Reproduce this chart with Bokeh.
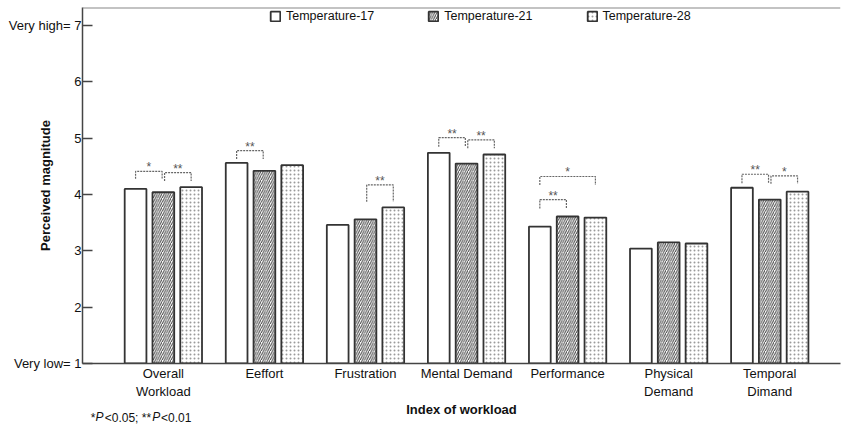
from bokeh.plotting import figure
from bokeh.models import (ColumnDataSource, Span, FixedTicker, Legend, LegendItem,
                          Range1d, LinearAxis)
from bokeh.transform import dodge
from bokeh.embed import file_html
from bokeh.resources import INLINE
from bokeh.core.properties import value

# ---- data ----
categories = ["Overall\nWorkload", "Eeffort", "Frustration", "Mental Demand",
              "Performance", "Physical\nDemand", "Temporal\nDimand"]
series_names = ["Temperature-17", "Temperature-21", "Temperature-28"]
t17 = [4.10, 4.56, 3.46, 4.74, 3.43, 3.04, 4.12]
t21 = [4.04, 4.42, 3.56, 4.55, 3.61, 3.15, 3.91]
t28 = [4.13, 4.52, 3.77, 4.71, 3.59, 3.13, 4.05]
y_ticks = [1, 2, 3, 4, 5, 6, 7]
y_tick_labels = ["Very low= 1", "2", "3", "4", "5", "6", "Very high= 7"]
x_title = "Index of workload"
y_title = "Perceived magnitude"

# significance brackets: group, from-series, to-series, top value, leg depth, label
brk_group = [0, 0, 1, 2, 3, 3, 4, 4, 6, 6]
brk_a = [0, 1, 0, 1, 0, 1, 0, 0, 0, 1]
brk_b = [1, 2, 1, 2, 1, 2, 1, 2, 1, 2]
brk_top = [4.41, 4.39, 4.78, 4.17, 5.01, 4.97, 3.91, 4.32, 4.36, 4.33]
brk_depth = [0.13, 0.15, 0.15, 0.30, 0.16, 0.15, 0.16, 0.15, 0.16, 0.14]
brk_label = ["*", "**", "**", "**", "**", "**", "**", "*", "**", "*"]

# footnote pieces (normal / italic)
foot_normal = ["*", "<0.05; **", "<0.01"]
foot_italic = ["P", "P"]

FONT = "Liberation Sans"
offsets = [-0.275, 0.0, 0.275]
bar_w = 0.215
X0, X1 = -0.80, 6.70
FRAME_L, FRAME_R = 82, 840

def px_to_x(px):
    return round(X0 + (px - FRAME_L) * (X1 - X0) / (FRAME_R - FRAME_L), 4)

p = figure(width=843, height=427, output_backend="svg", toolbar_location=None,
           x_range=Range1d(X0, X1), y_range=Range1d(1, 7.32))
p.min_border_left = 82
p.min_border_right = 3
p.min_border_top = 7
p.min_border_bottom = 64
p.outline_line_color = None
p.xgrid.visible = False
p.ygrid.visible = False
p.background_fill_color = "white"
p.border_fill_color = "white"

src = ColumnDataSource(dict(g=list(range(len(categories))), t17=t17, t21=t21, t28=t28))

common = dict(width=bar_w, bottom=1, source=src, line_color="#333333", line_width=1.8)
r1 = p.vbar(x=dodge("g", offsets[0]), top="t17", fill_color="white", **common)
r2 = p.vbar(x=dodge("g", offsets[1]), top="t21", fill_color="white",
            hatch_pattern="right_diagonal_line", hatch_color="#444444",
            hatch_scale=4.5, hatch_weight=1.0, **common)
r3 = p.vbar(x=dodge("g", offsets[2]), top="t28", fill_color="white",
            hatch_pattern="dot", hatch_color="#9a9a9a",
            hatch_scale=4, hatch_weight=1.0, **common)

# brackets
xs, ys, tx, ty = [], [], [], []
for g, a, b, top, d in zip(brk_group, brk_a, brk_b, brk_top, brk_depth):
    xa = g + offsets[a] + (0.012 if a == 1 else 0)
    xb = g + offsets[b] - (0.012 if b == 1 else 0)
    xs.append([xa, xa, xb, xb])
    ys.append([top - d, top, top, top - d])
    tx.append((xa + xb) / 2)
    ty.append(top)
p.multi_line(xs=xs, ys=ys, line_color="#666666", line_width=1.2, line_dash="2 1")
p.text(x=tx, y=ty, text=brk_label, text_align="center", text_baseline="middle",
       y_offset=-4, text_font=value(FONT), text_font_size="12px", text_color="#555555")

# x axis
xa_ = p.xaxis[0]
xa_.ticker = FixedTicker(ticks=list(range(len(categories))))
xa_.major_label_overrides = {i: c for i, c in enumerate(categories)}
xa_.major_tick_line_color = None
xa_.minor_tick_line_color = None
xa_.axis_line_color = "#444444"
xa_.axis_line_width = 1.5
xa_.major_label_text_font = FONT
xa_.major_label_text_font_size = "13px"
xa_.major_label_text_color = "#111111"
xa_.major_label_standoff = -4
xa_.axis_label = x_title
xa_.axis_label_text_font = FONT
xa_.axis_label_text_font_size = "13px"
xa_.axis_label_text_font_style = "bold"
xa_.axis_label_text_color = "#111111"
xa_.axis_label_standoff = 0

# y axis
ya = p.yaxis[0]
ya.ticker = FixedTicker(ticks=y_ticks)
ya.major_label_overrides = {t: l for t, l in zip(y_ticks, y_tick_labels)}
ya.major_tick_in = 10
ya.major_tick_out = 0
ya.major_tick_line_color = "#444444"
ya.major_tick_line_width = 1.5
ya.minor_tick_line_color = None
ya.axis_line_color = "#444444"
ya.axis_line_width = 1.5
ya.major_label_text_font = FONT
ya.major_label_text_font_size = "13px"
ya.major_label_text_color = "#111111"
ya.major_label_standoff = 1
ya.axis_label = y_title
ya.axis_label_text_font = FONT
ya.axis_label_text_font_size = "13px"
ya.axis_label_text_font_style = "bold"
ya.axis_label_text_color = "#111111"
ya.axis_label_standoff = -47

p.add_layout(Span(location=p.y_range.end, dimension="width", line_color="#888888", line_width=2))

# footnote as two label-only axes (normal and italic pieces) on the same line
foot_normal_px = [92.5, 127.4, 175.7]   # centres of the pieces
foot_italic_px = [99.0, 155.8]

def foot_axis(pieces, pxs, style, standoff):
    ticks = [px_to_x(v) for v in pxs]
    ax = LinearAxis(ticker=FixedTicker(ticks=ticks),
                    major_label_overrides={t: s for t, s in zip(ticks, pieces)},
                    axis_line_color=None, major_tick_line_color=None,
                    minor_tick_line_color=None, major_tick_in=0, major_tick_out=0,
                    major_label_standoff=standoff,
                    major_label_text_font=FONT, major_label_text_font_size="12px",
                    major_label_text_font_style=style, major_label_text_color="#111111")
    p.add_layout(ax, "below")

foot_axis(foot_normal, foot_normal_px, "normal", -9)
foot_axis(foot_italic, foot_italic_px, "italic", -18)

# legend
legend = Legend(items=[LegendItem(label=series_names[0], renderers=[r1]),
                       LegendItem(label=series_names[1], renderers=[r2]),
                       LegendItem(label=series_names[2], renderers=[r3])],
                orientation="horizontal", location=(187, 340),
                border_line_color=None, background_fill_alpha=0,
                label_text_font=FONT, label_text_font_size="12.5px",
                label_text_color="#111111", glyph_width=12, glyph_height=12,
                label_standoff=5, spacing=53, padding=2, margin=0,
                label_height=12)
p.add_layout(legend)

open("out.html", "w").write(file_html(p, INLINE))
